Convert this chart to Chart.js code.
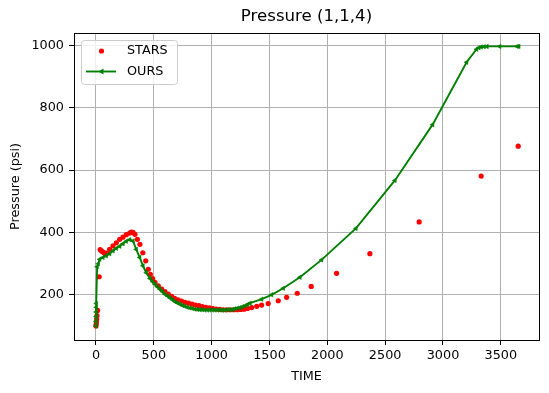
<!DOCTYPE html>
<html>
<head>
<meta charset="utf-8">
<script src="https://cdn.jsdelivr.net/npm/chart.js"></script>
<style>
  body { margin: 0; background: #fff; }
  canvas { display: block; }
</style>
</head>
<body>
<canvas id="chart" width="549" height="393"></canvas>
<script>
const chartTitle = "Pressure (1,1,4)";
const xTicks = [0, 500, 1000, 1500, 2000, 2500, 3000, 3500];
const yTicks = [200, 400, 600, 800, 1000];

// STARS (red dots)
const starsTime = [0, 2, 4, 6, 9, 14, 28, 36, 44, 54, 66, 80, 95,
  118, 147, 176, 205, 233, 262, 291, 305, 320, 337,
  358, 380, 405, 430, 452, 470, 490, 510, 539, 568,
  596, 625, 654, 680, 710, 740, 770, 800, 830, 860,
  890, 920, 950, 980, 1010, 1040, 1070, 1100, 1130, 1160,
  1190, 1220, 1250, 1280, 1310, 1346, 1390, 1432, 1489, 1576,
  1648, 1740, 1861, 2080, 2368, 2794, 3330, 3650];
const starsPressure = [100, 106, 113, 122, 133, 150, 258, 345, 342, 339, 336, 332, 334,
  346, 357, 367, 378, 385, 393, 398, 401, 400, 394,
  378, 362, 335, 309, 282, 266, 252, 240, 229, 218,
  210, 202, 195, 189, 184, 180, 176, 173, 170, 167,
  165, 162, 160, 158, 156, 154, 153, 152, 152, 152,
  152, 152, 153, 154, 156, 159, 163, 167, 172, 181,
  192, 205, 227, 269, 332, 434, 581, 677];

// OURS (green line, left triangles)
const oursTime = [0, 0, 1, 1, 2, 3, 10, 20, 32, 60, 89,
  118, 147, 176, 205, 233, 262, 291, 320, 348, 378,
  406, 435, 467, 490, 510, 530, 553, 575, 596, 620,
  640, 662, 683, 705, 726, 748, 769, 790, 812, 834,
  856, 878, 899, 920, 942, 964, 985, 1007, 1028, 1050,
  1072, 1094, 1115, 1137, 1158, 1180, 1200, 1222, 1245, 1268,
  1290, 1310, 1331, 1432, 1518, 1619, 1763, 1950, 2247, 2584,
  2910, 3204, 3290, 3310, 3330, 3355, 3380, 3490, 3640, 3655];
const oursPressure = [100, 115, 130, 145, 160, 172, 290, 300, 314, 320, 325,
  332, 341, 349, 356, 364, 372, 377, 373, 346, 320,
  293, 271, 252, 242, 234, 226, 218, 210, 202, 196,
  190, 184, 178, 174, 170, 166, 163, 160, 158, 156,
  154, 153, 152, 152, 151, 151, 151, 151, 151, 151,
  151, 151, 151, 152, 152, 153, 155, 157, 159, 162,
  165, 169, 173, 186, 200, 221, 256, 312, 413, 567,
  746, 946, 988, 993, 995, 996, 997, 997, 997, 997];

const starsColor = "#ff0000";
const oursColor = "#008000";
const font = "DejaVu Sans";

Chart.defaults.font.family = font;
Chart.defaults.color = "#000";

const starsPoints = starsTime.map((t, i) => ({ x: t, y: starsPressure[i] }));
const oursPoints = oursTime.map((t, i) => ({ x: t, y: oursPressure[i] }));

// title, frame and legend drawn like matplotlib
const extras = {
  id: "extras",
  afterDraw(chart) {
    const ctx = chart.ctx;
    const a = chart.chartArea;
    ctx.save();
    ctx.strokeStyle = "#000";
    ctx.lineWidth = 1;
    ctx.strokeRect(Math.round(a.left) + 0.5, Math.round(a.top) + 0.5,
      Math.round(a.right - a.left), Math.round(a.bottom - a.top));

    ctx.fillStyle = "#000";
    ctx.font = "16.6px '" + font + "'";
    ctx.textAlign = "center";
    ctx.textBaseline = "middle";
    ctx.fillText(chartTitle, (a.left + a.right) / 2, 17);

    // legend
    const bx = 81.5, by = 40.5, bw = 96, bh = 44, r = 3;
    ctx.beginPath();
    ctx.roundRect(bx, by, bw, bh, r);
    ctx.fillStyle = "rgba(255,255,255,0.8)";
    ctx.fill();
    ctx.strokeStyle = "#cccccc";
    ctx.stroke();

    ctx.fillStyle = starsColor;
    ctx.beginPath();
    ctx.arc(101.5, 51, 2.6, 0, Math.PI * 2);
    ctx.fill();

    ctx.strokeStyle = oursColor;
    ctx.lineWidth = 1.9;
    ctx.beginPath();
    ctx.moveTo(86, 71.5);
    ctx.lineTo(116, 71.5);
    ctx.stroke();
    ctx.fillStyle = oursColor;
    ctx.beginPath();
    ctx.moveTo(98.5, 71.5);
    ctx.lineTo(103.5, 68.5);
    ctx.lineTo(103.5, 74.5);
    ctx.closePath();
    ctx.fill();

    ctx.fillStyle = "#000";
    ctx.font = "12.8px '" + font + "'";
    ctx.textAlign = "left";
    ctx.fillText("STARS", 127, 51);
    ctx.fillText("OURS", 127, 72);
    ctx.restore();
  }
};

new Chart(document.getElementById("chart").getContext("2d"), {
  type: "scatter",
  data: {
    datasets: [
      {
        label: "STARS",
        data: starsPoints,
        showLine: false,
        pointStyle: "circle",
        pointRadius: 2.6,
        pointBackgroundColor: starsColor,
        pointBorderWidth: 0,
        order: 2
      },
      {
        label: "OURS",
        data: oursPoints,
        showLine: true,
        borderColor: oursColor,
        borderWidth: 1.9,
        tension: 0,
        pointStyle: "triangle",
        pointRotation: -90,
        pointRadius: 2.6,
        pointBackgroundColor: oursColor,
        pointBorderColor: oursColor,
        pointBorderWidth: 0.5,
        order: 1
      }
    ]
  },
  options: {
    responsive: false,
    animation: false,
    layout: { padding: { left: 0, right: 10, top: 33, bottom: 0 } },
    plugins: {
      legend: { display: false },
      tooltip: { enabled: false }
    },
    scales: {
      x: {
        type: "linear",
        min: -190,
        max: 3830,
        afterBuildTicks: s => { s.ticks = xTicks.map(v => ({ value: v })); },
        afterFit: s => { s.height = 53; },
        grid: { color: "#b0b0b0", lineWidth: 1, tickColor: "#000", tickLength: 5 },
        border: { color: "#000", width: 1 },
        ticks: { font: { size: 12.8 }, padding: 3, maxRotation: 0, callback: v => String(v) },
        title: { display: true, text: "TIME", font: { size: 12.8 }, padding: { top: 0, bottom: 9 } }
      },
      y: {
        type: "linear",
        min: 55,
        max: 1040,
        afterBuildTicks: s => { s.ticks = yTicks.map(v => ({ value: v })); },
        afterFit: s => { s.width = 74; },
        grid: { color: "#b0b0b0", lineWidth: 1, tickColor: "#000", tickLength: 5 },
        border: { color: "#000", width: 1 },
        ticks: { font: { size: 12.8 }, padding: 5, callback: v => String(v) },
        title: { display: true, text: "Pressure (psi)", font: { size: 12.8 }, padding: { top: 8, bottom: 0 } }
      }
    }
  },
  plugins: [extras]
});
</script>
</body>
</html>
